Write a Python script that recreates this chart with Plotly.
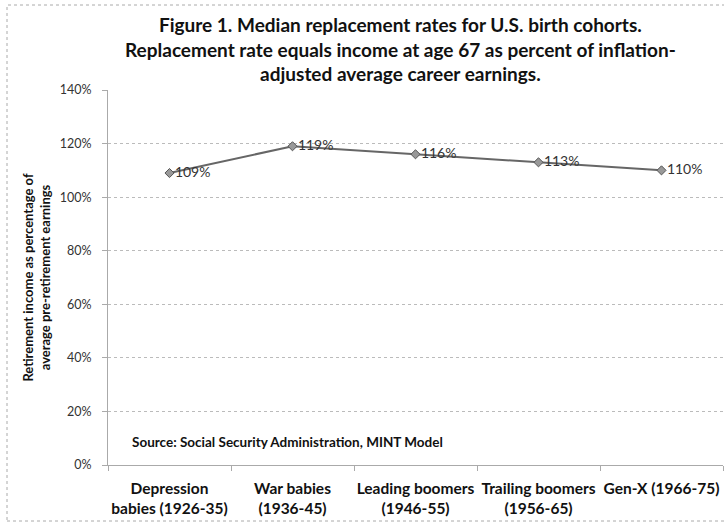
import plotly.graph_objects as go

categories = ["Depression<br>babies (1926-35)", "War babies<br>(1936-45)",
              "Leading boomers<br>(1946-55)", "Trailing boomers<br>(1956-65)",
              "Gen-X (1966-75)"]
rates = [109, 119, 116, 113, 110]
labels = [f"{v}%" for v in rates]
y_ticks = [0, 20, 40, 60, 80, 100, 120, 140]
y_tick_labels = [f"{v}%" for v in y_ticks]

W, H = 724, 523
L, R, T, B = 108, 1, 90, 58
pw, ph = W - L - R, H - T - B
FONT = "Lato, Carlito, sans-serif"

fig = go.Figure()
fig.add_trace(go.Scatter(
    x=categories, y=rates, mode="lines+markers+text",
    text=labels, textposition="middle right",
    textfont=dict(family=FONT, size=14, color="#333"),
    line=dict(color="#666", width=2),
    marker=dict(symbol="diamond", size=7, color="#999", line=dict(color="#555", width=1)),
    cliponaxis=False, showlegend=False,
))

fig.update_layout(
    width=W, height=H,
    margin=dict(l=L, r=R, t=T, b=B),
    paper_bgcolor="white", plot_bgcolor="white",
    font=dict(family=FONT, color="#222"),
    xaxis=dict(
        type="category", range=[-0.5, 4.5], tickson="boundaries", ticks="outside", ticklen=5,
        tickcolor="#aaa", showgrid=False, showline=True, linecolor="#aaa",
        linewidth=1, tickfont=dict(size=15.5, color="#111", family=FONT),
        tickangle=0, ticklabelstandoff=9, automargin=False,
        tickvals=categories, ticktext=[f"<b>{c}</b>" for c in categories],
    ),
    yaxis=dict(
        range=[0, 140], tickvals=y_ticks, ticktext=y_tick_labels,
        showgrid=True, gridcolor="#bbb", griddash="dot", gridwidth=1,
        showline=True, linecolor="#aaa", linewidth=1,
        ticks="outside", ticklen=5, tickcolor="#aaa", ticklabelstandoff=8,
        tickfont=dict(size=12.5, color="#333"), zeroline=False,
        title=dict(text="<b>Retirement income as percentage of<br>average pre-retirement earnings</b>",
                   font=dict(size=13, color="#111"), standoff=6),
        automargin=False,
    ),
)

fig.add_annotation(
    text="<b>Figure 1. Median replacement rates for U.S. birth cohorts.<br>"
         "Replacement rate equals income at age 67 as percent of inflation-<br>"
         "adjusted average career earnings.</b>",
    xref="paper", yref="paper", x=(400 - L) / pw, y=1 + (T - 11) / ph,
    xanchor="center", yanchor="top", showarrow=False, align="center",
    font=dict(size=19, color="#111", family=FONT),
)

fig.add_annotation(
    text="<b>Source: Social Security Administration, MINT Model</b>",
    xref="paper", yref="paper", x=(130 - L) / pw, y=(465 - 442) / ph,
    xanchor="left", yanchor="middle", showarrow=False,
    font=dict(size=13.5, color="#111"),
)

fig.add_shape(
    type="rect", xref="paper", yref="paper",
    x0=-(L - 7) / pw, x1=(W - L + 20) / pw,
    y0=-(B - 2) / ph, y1=1 + (T - 5) / ph,
    line=dict(color="#aaa", width=1, dash="dot"),
)

fig.write_html("out.html", config={"displayModeBar": False},
               post_script="document.body.style.margin='0';")
